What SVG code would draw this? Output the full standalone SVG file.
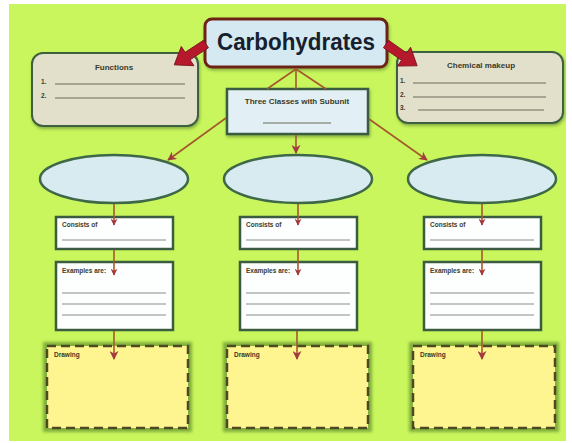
<svg xmlns="http://www.w3.org/2000/svg" width="572" height="443" viewBox="0 0 572 443">
<style>
text{font-family:"Liberation Sans","DejaVu Sans",sans-serif;font-weight:bold;fill:#3a3a2a}
.hdr{font-size:8px;text-anchor:middle}
.sm{font-size:6.5px}
.wl{stroke:#6b6b5a;stroke-width:1.1;fill:none}
.gl{stroke:#8a8a8a;stroke-width:1.1;fill:none}
.side{fill:#e2dfcb;stroke:#3d6040;stroke-width:2}
.oval{fill:#d8ebf1;stroke:#3e6848;stroke-width:2.5}
.wbox{fill:#fdfefe;stroke:#3b5c40;stroke-width:2.5}
.draw-glow{fill:none;stroke:#6f9e32;stroke-width:8;stroke-opacity:0.8}
.draw{fill:#fff590;stroke:#4d4a22;stroke-width:2.5;stroke-dasharray:9 5}
.con{stroke:#a5582c;stroke-width:1.6;fill:none}
.red{fill:#b5192b;stroke:#7a1020;stroke-width:0.8}
</style>
<defs>
<marker id="ah" viewBox="0 0 10 10" refX="9" refY="5" markerWidth="7" markerHeight="7" orient="auto" markerUnits="userSpaceOnUse">
<path d="M0,0 L10,5 L0,10 L3,5 z" fill="#a23a3e"/>
</marker>
<marker id="ah2" viewBox="0 0 10 10" refX="9" refY="5" markerWidth="9" markerHeight="9" orient="auto" markerUnits="userSpaceOnUse">
<path d="M0,0 L10,5 L0,10 L3,5 z" fill="#a23a3e"/>
</marker>
<filter id="sh" x="-10%" y="-10%" width="120%" height="130%">
<feDropShadow dx="1" dy="2" stdDeviation="1.5" flood-color="#3a5a20" flood-opacity="0.45"/>
</filter>
<filter id="blur" x="-10%" y="-10%" width="120%" height="120%">
<feGaussianBlur stdDeviation="1.5"/>
</filter>
</defs>
<rect x="0" y="0" width="572" height="443" fill="#ffffff"/>
<rect x="9" y="4" width="557" height="437" fill="#c8f65c"/>

<g id="functions">
<rect class="side" x="32" y="53" width="166" height="73" rx="11" filter="url(#sh)"/>
<text class="hdr" x="114" y="70">Functions</text>
<text class="sm" x="41" y="84">1.</text>
<line class="wl" x1="55" y1="84" x2="185" y2="84"/>
<text class="sm" x="41" y="98">2.</text>
<line class="wl" x1="55" y1="98" x2="185" y2="98"/>
</g>

<g id="chemical-makeup">
<rect class="side" x="397" y="52" width="166" height="71" rx="11" filter="url(#sh)"/>
<text class="hdr" x="481" y="68">Chemical makeup</text>
<text class="sm" x="400" y="83">1.</text>
<line class="wl" x1="413" y1="83" x2="546" y2="83"/>
<text class="sm" x="400" y="97">2.</text>
<line class="wl" x1="413" y1="97" x2="546" y2="97"/>
<text class="sm" x="400" y="110">3.</text>
<line class="wl" x1="418" y1="110" x2="544" y2="110"/>
</g>

<g id="carbohydrates">
<rect x="205" y="19" width="182" height="48" rx="7" fill="#d4e9f1" stroke="#6e2418" stroke-width="3" filter="url(#sh)"/>
<text x="296" y="50" text-anchor="middle" font-size="23" textLength="158" lengthAdjust="spacingAndGlyphs" style="fill:#17202e">Carbohydrates</text>
</g>

<g id="three-classes">
<rect x="227" y="89" width="141" height="45" fill="#e2f0f5" stroke="#3b5c40" stroke-width="2.5" filter="url(#sh)"/>
<text class="hdr" x="297" y="104" font-size="7.5">Three Classes with Subunit</text>
<line class="wl" x1="263" y1="123" x2="331" y2="123"/>
</g>

<g id="class1">
<ellipse class="oval" cx="114" cy="179" rx="74" ry="24"/>
</g>
<g id="class2">
<ellipse class="oval" cx="298" cy="179" rx="74" ry="24"/>
</g>
<g id="class3">
<ellipse class="oval" cx="482" cy="179" rx="74" ry="24"/>
</g>

<g id="consists1">
<rect class="wbox" x="56" y="217" width="117" height="32"/>
<text class="sm" x="62" y="227">Consists of</text>
<line class="gl" x1="62" y1="240" x2="166" y2="240"/>
</g>
<g id="consists2">
<rect class="wbox" x="240" y="217" width="117" height="32"/>
<text class="sm" x="246" y="227">Consists of</text>
<line class="gl" x1="246" y1="240" x2="350" y2="240"/>
</g>
<g id="consists3">
<rect class="wbox" x="424" y="217" width="117" height="32"/>
<text class="sm" x="430" y="227">Consists of</text>
<line class="gl" x1="430" y1="240" x2="534" y2="240"/>
</g>

<g id="examples1">
<rect class="wbox" x="56" y="262" width="117" height="68"/>
<text class="sm" x="62" y="273">Examples are:</text>
<line class="gl" x1="62" y1="293" x2="166" y2="293"/>
<line class="gl" x1="62" y1="304" x2="166" y2="304"/>
<line class="gl" x1="62" y1="315" x2="166" y2="315"/>
</g>
<g id="examples2">
<rect class="wbox" x="240" y="262" width="117" height="68"/>
<text class="sm" x="246" y="273">Examples are:</text>
<line class="gl" x1="246" y1="293" x2="350" y2="293"/>
<line class="gl" x1="246" y1="304" x2="350" y2="304"/>
<line class="gl" x1="246" y1="315" x2="350" y2="315"/>
</g>
<g id="examples3">
<rect class="wbox" x="424" y="262" width="117" height="68"/>
<text class="sm" x="430" y="273">Examples are:</text>
<line class="gl" x1="430" y1="293" x2="534" y2="293"/>
<line class="gl" x1="430" y1="304" x2="534" y2="304"/>
<line class="gl" x1="430" y1="315" x2="534" y2="315"/>
</g>

<g id="drawing1">
<rect class="draw-glow" x="47" y="346" width="141" height="82" filter="url(#blur)"/>
<rect class="draw" x="47" y="346" width="141" height="82"/>
<text class="sm" x="54" y="357">Drawing</text>
</g>
<g id="drawing2">
<rect class="draw-glow" x="227" y="346" width="141" height="82" filter="url(#blur)"/>
<rect class="draw" x="227" y="346" width="141" height="82"/>
<text class="sm" x="234" y="357">Drawing</text>
</g>
<g id="drawing3">
<rect class="draw-glow" x="413" y="346" width="142" height="82" filter="url(#blur)"/>
<rect class="draw" x="413" y="346" width="142" height="82"/>
<text class="sm" x="420" y="357">Drawing</text>
</g>

<g id="connectors">
<line class="con" x1="296" y1="69" x2="267" y2="89"/>
<line class="con" x1="296" y1="69" x2="296" y2="89"/>
<line class="con" x1="296" y1="69" x2="326" y2="89"/>
<line class="con" x1="226" y1="118" x2="168" y2="160" marker-end="url(#ah2)"/>
<line class="con" x1="369" y1="119" x2="427" y2="160" marker-end="url(#ah2)"/>
<line class="con" x1="296" y1="135" x2="296" y2="153" marker-end="url(#ah2)"/>
<line class="con" x1="114" y1="204" x2="114" y2="225" marker-end="url(#ah)"/>
<line class="con" x1="298" y1="204" x2="298" y2="225" marker-end="url(#ah)"/>
<line class="con" x1="482" y1="204" x2="482" y2="225" marker-end="url(#ah)"/>
<line class="con" x1="114" y1="250" x2="114" y2="275" marker-end="url(#ah)"/>
<line class="con" x1="298" y1="250" x2="298" y2="275" marker-end="url(#ah)"/>
<line class="con" x1="482" y1="250" x2="482" y2="275" marker-end="url(#ah)"/>
<line class="con" x1="114" y1="331" x2="114" y2="359" marker-end="url(#ah2)"/>
<line class="con" x1="297" y1="331" x2="297" y2="359" marker-end="url(#ah2)"/>
<line class="con" x1="482" y1="331" x2="482" y2="359" marker-end="url(#ah2)"/>
<polygon class="red" transform="translate(206,44) rotate(146.7)" points="0,-4.5 22,-4.5 22,-11.5 38,0 22,11.5 22,4.5 0,4.5"/>
<polygon class="red" transform="translate(386,44) rotate(35)" points="0,-4.5 22,-4.5 22,-11.5 38,0 22,11.5 22,4.5 0,4.5"/>
</g>
</svg>
